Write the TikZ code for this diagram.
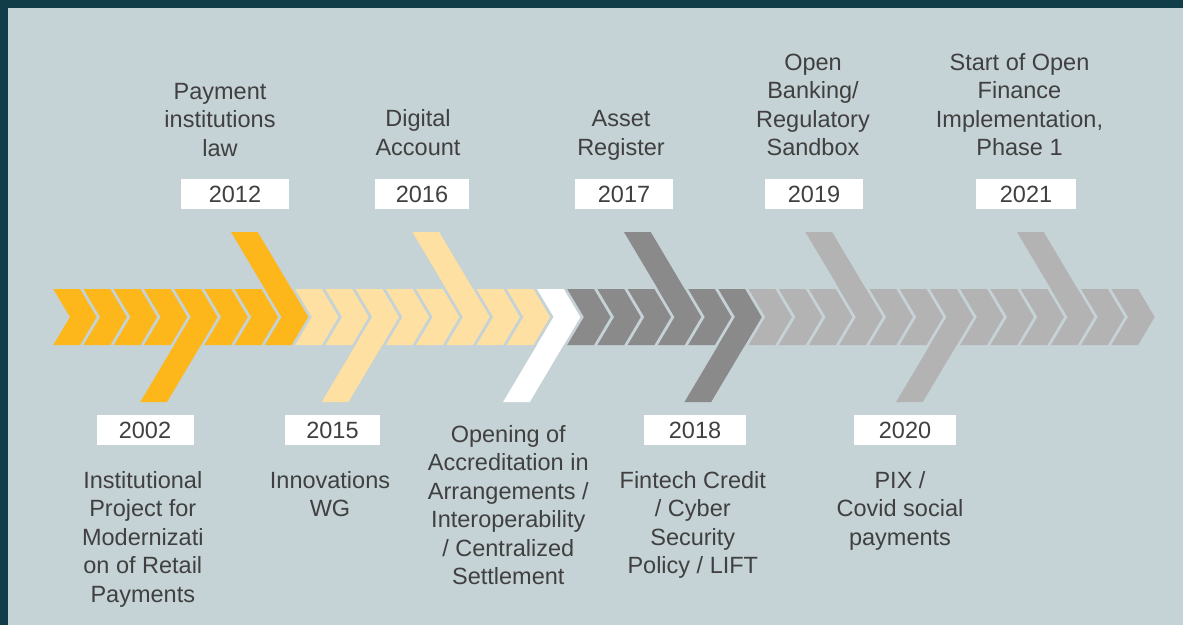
\documentclass[tikz,border=0pt]{standalone}
\usepackage{fontspec}
\setmainfont{Liberation Sans}
\usepackage{xcolor}
\definecolor{frame}{HTML}{103D48}
\definecolor{panel}{HTML}{C5D2D6}
\definecolor{gold}{HTML}{FDB71B}
\definecolor{goldlight}{HTML}{FFE0A3}
\definecolor{greydark}{HTML}{8A8A8A}
\definecolor{greylight}{HTML}{B3B3B3}
\definecolor{textcol}{HTML}{404040}
\usepackage{tikz}

\begin{document}
\begin{tikzpicture}[x=1pt, y=-1pt, font=\fontsize{23.5}{28.5}\selectfont,
  yearbox/.style={fill=white, text=textcol, minimum height=30pt, inner sep=0pt},
  milestone/.style={text=textcol, align=center, anchor=base, inner sep=0pt}]
  \useasboundingbox (0,0) rectangle (1183,625);
  \fill[frame] (0,0) rectangle (1183,625);
  \fill[panel] (8,8) rectangle (1183,625);

  % row of chevrons, one colour per period
  \foreach \first/\last/\col in {0/7/gold, 8/15/goldlight, 16/16/white, 17/22/greydark, 23/35/greylight}
    \foreach \i in {\first,...,\last} {
      \pgfmathsetmacro{\x}{53.3+30.23*\i}
      \fill[\col] (\x,289) -- ++(26.7,0) -- ++(16.6,28) -- ++(-16.6,28) -- ++(-26.7,0) -- ++(16.7,-28) -- cycle;
    }

  % long arms pointing up to the years above
  \foreach \i/\col in {7/gold, 13/goldlight, 20/greydark, 26/greylight, 33/greylight} {
    \pgfmathsetmacro{\x}{53.3+30.23*\i}
    \fill[\col] (\x-33.9,232) -- (\x-7.2,232) -- (\x+43.3,317) -- (\x+16.7,317) -- cycle;
  }
  % and down to the years below
  \foreach \i/\col in {4/gold, 10/goldlight, 16/white, 22/greydark, 29/greylight} {
    \pgfmathsetmacro{\x}{53.3+30.23*\i}
    \fill[\col] (\x+16.7,317) -- (\x+43.3,317) -- (\x-7.2,402) -- (\x-33.9,402) -- cycle;
  }

  % years on top (texts sit on the baseline of their last line)
  \node[yearbox, minimum width=108pt] (y2012) at (235,194) {2012};
  \node[yearbox, minimum width=94pt] (y2016) at (422,194) {2016};
  \node[yearbox, minimum width=98pt] (y2017) at (624,194) {2017};
  \node[yearbox, minimum width=98pt] (y2019) at (814,194) {2019};
  \node[yearbox, minimum width=100pt] (y2021) at (1026,194) {2021};

  \node[milestone] (t2012) at (220,156) {Payment\\institutions\\law};
  \node[milestone] (t2016) at (418,155.3) {Digital\\Account};
  \node[milestone] (t2017) at (621,155.3) {Asset\\Register};
  \node[milestone] (t2019) at (813,155.5) {Open\\Banking/\\Regulatory\\Sandbox};
  \node[milestone] (t2021) at (1019.5,155.5) {Start of Open\\Finance\\Implementation,\\Phase 1};

  % years below
  \node[yearbox, minimum width=97pt] (y2002) at (145,430) {2002};
  \node[yearbox, minimum width=95pt] (y2015) at (332.5,430) {2015};
  \node[yearbox, minimum width=102pt] (y2018) at (695,430) {2018};
  \node[yearbox, minimum width=102pt] (y2020) at (905,430) {2020};

  \node[milestone] (t2002) at (142.8,602.3) {Institutional\\Project for\\Modernizati\\on of Retail\\Payments};
  \node[milestone] (t2015) at (330,516.8) {Innovations\\WG};
  \node[milestone] (tinterop) at (508.3,584.8) {Opening of\\Accreditation in\\Arrangements /\\Interoperability\\/ Centralized\\Settlement};
  \node[milestone] (t2018) at (692.8,573.8) {Fintech Credit\\/ Cyber\\Security\\Policy / LIFT};
  \node[milestone] (t2020) at (900,545.3) {PIX /\\Covid social\\payments};
\end{tikzpicture}
\end{document}
